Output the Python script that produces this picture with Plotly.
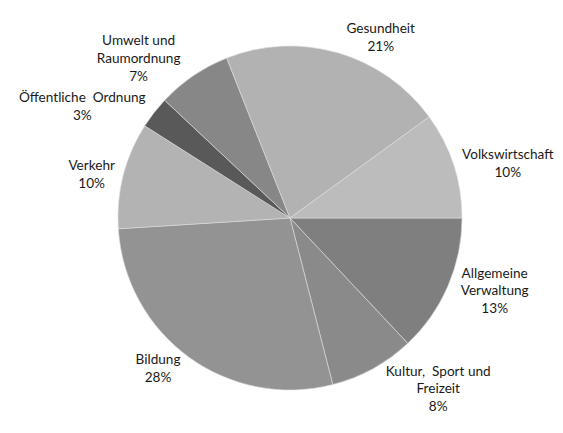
import plotly.graph_objects as go

categories = ["Allgemeine<br>Verwaltung", "Kultur,  Sport und<br>Freizeit", "Bildung", "Verkehr",
              "Öffentliche  Ordnung", "Umwelt und<br>Raumordnung", "Gesundheit", "Volkswirtschaft"]
values = [13, 8, 28, 10, 3, 7, 21, 10]
colors = ["#7f7f7f", "#8a8a8a", "#939393", "#b3b3b3", "#595959", "#878787", "#b2b2b2", "#bcbcbc"]

font = dict(family="Lato", size=13.6, color="#1a1a1a")

fig = go.Figure(go.Pie(
    labels=categories,
    values=values,
    sort=False,
    direction="clockwise",
    rotation=90,
    marker=dict(colors=colors, line=dict(color="#dedede", width=0.6)),
    textposition="outside",
    texttemplate="%{label}<br>%{value}%",
    textfont=font,
    outsidetextfont=font,
    hoverinfo="label+percent",
    domain=dict(x=[110/563, 454/563], y=[1-382/433, 1-38/433]),
    showlegend=False,
))
fig.update_traces(automargin=False)
fig.update_layout(
    width=563, height=433,
    margin=dict(l=0, r=0, t=0, b=0),
    paper_bgcolor="white", plot_bgcolor="white",
)
fig.write_html("out.html")
